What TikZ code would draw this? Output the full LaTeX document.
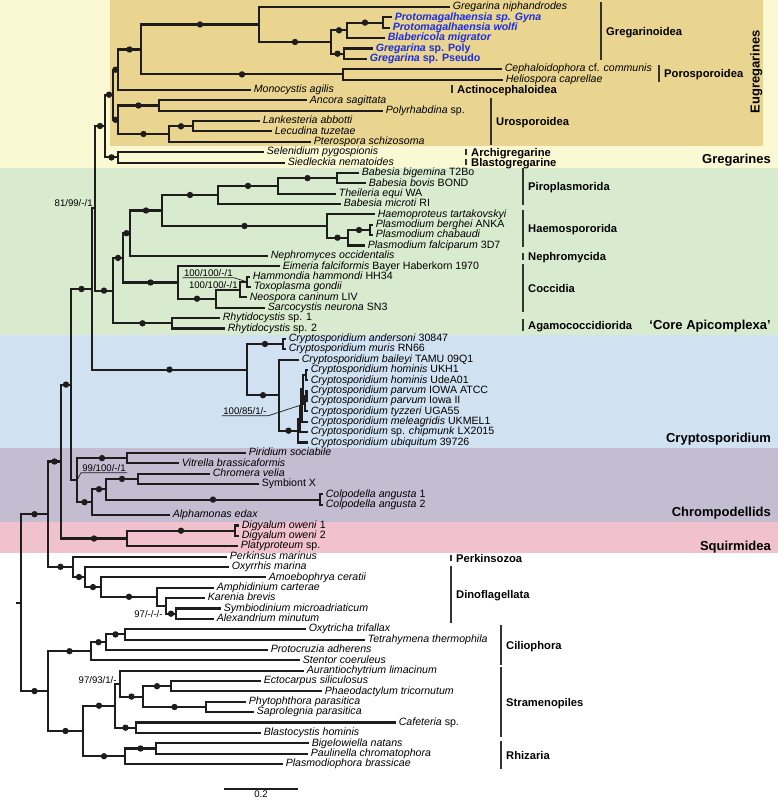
\documentclass[tikz,border=0pt]{standalone}
\usepackage{fontspec}
\setmainfont{Liberation Sans}
\usetikzlibrary{positioning}

\definecolor{treeline}{RGB}{30,28,28}
\definecolor{gblue}{RGB}{28,45,225}
\definecolor{bgyellow}{RGB}{251,248,212}
\definecolor{bgtan}{RGB}{233,213,143}
\definecolor{bggreen}{RGB}{216,235,207}
\definecolor{bgblue}{RGB}{208,225,241}
\definecolor{bgpurple}{RGB}{196,189,210}
\definecolor{bgpink}{RGB}{241,193,206}

\newcommand{\taxfont}{\fontsize{10.6}{12}\selectfont}
\newcommand{\supfont}{\fontsize{9.6}{11}\selectfont}
\newcommand{\cladefont}{\fontsize{11.2}{13}\selectfont}
\newcommand{\groupfont}{\fontsize{13}{15}\selectfont}

% branch from parent to child, plain or with a support dot
\newcommand{\twig}[2]{\draw[branch] (#1) |- (#2);}
\newcommand{\twigd}[2]{\draw[branch] (#1) |- node[sdot,pos=.75] (d-#2) {} (#2);}
% bar with clade name
\newcommand{\cladebar}[5]{\draw[cladebarline] (#2,#3) -- (#2,#4);
  \node[cladelab] (#1) at ({#2+5},{(#3+#4)/2}) {#5};}

\begin{document}
\begin{tikzpicture}[x=1pt,y=-1pt,
  branch/.style={line width=2.1pt,draw=treeline},
  sdot/.style={circle,fill=treeline,inner sep=0pt,minimum size=6.4pt},
  tax/.style={anchor=west,inner sep=2.6pt,text height=5.4pt,text depth=0pt,font=\taxfont\itshape},
  btax/.style={tax,text=gblue,font=\taxfont\bfseries\itshape},
  suplab/.style={inner sep=1.2pt,text height=6.8pt,text depth=0pt,font=\supfont},
  leader/.style={line width=0.7pt,draw=treeline},
  cladebarline/.style={line width=1.3pt,draw=black!80},
  cladelab/.style={anchor=west,inner sep=0pt,text height=8pt,text depth=0pt,font=\cladefont\bfseries},
  grouplab/.style={anchor=east,inner sep=0pt,text height=9.3pt,text depth=0pt,font=\groupfont\bfseries}]
\useasboundingbox (0,0) rectangle (778,801);

% coloured bands
\fill[bgyellow] (0,0) rectangle (778,168);
\fill[bgtan] (110,0) rectangle (763,146);
\fill[bggreen] (0,168) rectangle (778,335);
\fill[bgblue] (0,335) rectangle (778,448);
\fill[bgpurple] (0,448) rectangle (778,522);
\fill[bgpink] (0,522) rectangle (778,553);

% taxa
\node[tax] (gnip) at (450,7) {Gregarina niphandrodes};
\node[btax] (pgyn) at (392,17.4) {Protomagalhaensia sp. Gyna};
\node[btax] (pwol) at (390,27.7) {Protomagalhaensia wolfi};
\node[btax] (bmig) at (385,38.1) {Blabericola migrator};
\node[btax] (gpol) at (373,48.5) {Gregarina \textup{sp. Poly}};
\node[btax] (gpse) at (367,58.9) {Gregarina \textup{sp. Pseudo}};
\node[tax] (ceph) at (502,69.2) {Cephaloidophora \textup{cf.} communis};
\node[tax] (heli) at (503,79.6) {Heliospora caprellae};
\node[tax] (mono) at (251,90) {Monocystis agilis};
\node[tax] (anco) at (307,100.3) {Ancora sagittata};
\node[tax] (poly) at (383,110.7) {Polyrhabdina \textup{sp.}};
\node[tax] (lank) at (260,121.1) {Lankesteria abbotti};
\node[tax] (lecu) at (272,131.4) {Lecudina tuzetae};
\node[tax] (pter) at (311,141.8) {Pterospora schizosoma};
\node[tax] (sele) at (264,152.2) {Selenidium pygospionis};
\node[tax] (sied) at (285,162.6) {Siedleckia nematoides};
\node[tax] (bbig) at (359,172.9) {Babesia bigemina \textup{T2Bo}};
\node[tax] (bbov) at (366,183.3) {Babesia bovis \textup{BOND}};
\node[tax] (tequ) at (336,193.7) {Theileria equi \textup{WA}};
\node[tax] (bmic) at (341,204) {Babesia microti \textup{RI}};
\node[tax] (haem) at (375,214.4) {Haemoproteus tartakovskyi};
\node[tax] (pber) at (373,224.8) {Plasmodium berghei \textup{ANKA}};
\node[tax] (pcha) at (373,235.1) {Plasmodium chabaudi};
\node[tax] (pfal) at (365,245.5) {Plasmodium falciparum \textup{3D7}};
\node[tax] (neph) at (268,255.9) {Nephromyces occidentalis};
\node[tax] (eime) at (280,266.3) {Eimeria falciformis \textup{Bayer Haberkorn 1970}};
\node[tax] (hham) at (250,276.6) {Hammondia hammondi \textup{HH34}};
\node[tax] (tgon) at (251,287) {Toxoplasma gondii};
\node[tax] (ncan) at (247,297.4) {Neospora caninum \textup{LIV}};
\node[tax] (sneu) at (265,307.7) {Sarcocystis neurona \textup{SN3}};
\node[tax] (rhy1) at (220,318.1) {Rhytidocystis \textup{sp. 1}};
\node[tax] (rhy2) at (225,328.5) {Rhytidocystis \textup{sp. 2}};
\node[tax] (cand) at (286,338.8) {Cryptosporidium andersoni \textup{30847}};
\node[tax] (cmur) at (286,349.2) {Cryptosporidium muris \textup{RN66}};
\node[tax] (cbai) at (299,359.6) {Cryptosporidium baileyi \textup{TAMU 09Q1}};
\node[tax] (chom1) at (308,370) {Cryptosporidium hominis \textup{UKH1}};
\node[tax] (chom2) at (308,380.3) {Cryptosporidium hominis \textup{UdeA01}};
\node[tax] (cpar1) at (308,390.7) {Cryptosporidium parvum \textup{IOWA ATCC}};
\node[tax] (cpar2) at (308,401.1) {Cryptosporidium parvum \textup{Iowa II}};
\node[tax] (ctyz) at (308,411.4) {Cryptosporidium tyzzeri \textup{UGA55}};
\node[tax] (cmel) at (308,421.8) {Cryptosporidium meleagridis \textup{UKMEL1}};
\node[tax] (cchi) at (308,432.2) {Cryptosporidium \textup{sp.} chipmunk \textup{LX2015}};
\node[tax] (cubi) at (308,442.5) {Cryptosporidium ubiquitum \textup{39726}};
\node[tax] (piri) at (246,452.9) {Piridium sociabile};
\node[tax] (vitr) at (179,463.3) {Vitrella brassicaformis};
\node[tax] (chro) at (210,473.7) {Chromera velia};
\node[tax] (symx) at (259,484) {\textup{Symbiont X}};
\node[tax] (col1) at (323,494.4) {Colpodella angusta \textup{1}};
\node[tax] (col2) at (323,504.8) {Colpodella angusta \textup{2}};
\node[tax] (alph) at (170,515.1) {Alphamonas edax};
\node[tax] (dig1) at (239,525.5) {Digyalum oweni \textup{1}};
\node[tax] (dig2) at (239,535.9) {Digyalum oweni \textup{2}};
\node[tax] (plat) at (238,546.2) {Platyproteum \textup{sp.}};
\node[tax] (perk) at (227,556.6) {Perkinsus marinus};
\node[tax] (oxyr) at (229,567) {Oxyrrhis marina};
\node[tax] (amoe) at (266,577.4) {Amoebophrya ceratii};
\node[tax] (amph) at (214,587.7) {Amphidinium carterae};
\node[tax] (kare) at (205,598.1) {Karenia brevis};
\node[tax] (symb) at (221,608.5) {Symbiodinium microadriaticum};
\node[tax] (alex) at (214,618.8) {Alexandrium minutum};
\node[tax] (oxyt) at (306,629.2) {Oxytricha trifallax};
\node[tax] (tetr) at (365,639.6) {Tetrahymena thermophila};
\node[tax] (prot) at (268,649.9) {Protocruzia adherens};
\node[tax] (sten) at (300,660.3) {Stentor coeruleus};
\node[tax] (aura) at (304,670.7) {Aurantiochytrium limacinum};
\node[tax] (ecto) at (261,681) {Ectocarpus siliculosus};
\node[tax] (phae) at (322,691.4) {Phaeodactylum tricornutum};
\node[tax] (phyt) at (246,701.8) {Phytophthora parasitica};
\node[tax] (sapr) at (254,712.2) {Saprolegnia parasitica};
\node[tax] (cafe) at (396,722.5) {Cafeteria \textup{sp.}};
\node[tax] (blas) at (261,732.9) {Blastocystis hominis};
\node[tax] (bige) at (309,743.3) {Bigelowiella natans};
\node[tax] (paul) at (308,753.6) {Paulinella chromatophora};
\node[tax] (pbra) at (283,764) {Plasmodiophora brassicae};

% inner nodes
\coordinate (n-pm) at (383,22.6);  \coordinate (n-pb) at (347,30.3);
\coordinate (n-gs) at (344,53.7);  \coordinate (n-gp) at (331,42);
\coordinate (n-gr) at (259,24.5);  \coordinate (n-po) at (343,74.4);
\coordinate (n-eu1) at (141,49.5); \coordinate (n-eu2) at (118,69.7);
\coordinate (n-an) at (159,105.5); \coordinate (n-lk) at (193,126.3);
\coordinate (n-lp) at (169,134);   \coordinate (n-uro) at (118,119.8);
\coordinate (n-eug) at (113,94.7); \coordinate (n-ab) at (118,157.4);
\coordinate (n-greg) at (105,126);
\coordinate (n-bb) at (337,178.1); \coordinate (n-bt) at (278,185.9);
\coordinate (n-pi) at (218,195);   \coordinate (n-pl) at (370,230);
\coordinate (n-pf) at (348,237.7); \coordinate (n-hm) at (327,226);
\coordinate (n-ap) at (162,210.5); \coordinate (n-ac) at (130,233.2);
\coordinate (n-ht) at (247,281.8); \coordinate (n-tn) at (240,289.6);
\coordinate (n-sc) at (216,298.7); \coordinate (n-co) at (178,282.5);
\coordinate (n-ca) at (123,257.9); \coordinate (n-rh) at (172,323.3);
\coordinate (n-core) at (113,290.6); \coordinate (n-gc) at (95,208.3);
\coordinate (n-am) at (283,344);   \coordinate (n-c5) at (306,375.2);
\coordinate (n-c7) at (306.5,395.9); \coordinate (n-c6) at (305,403.7);
\coordinate (n-c4) at (303,389.4); \coordinate (n-c3) at (301.5,405.6);
\coordinate (n-c2) at (300,418.9); \coordinate (n-c1) at (298,430.7);
\coordinate (n-cb) at (279,395.2); \coordinate (n-cr) at (247,369.6);
\coordinate (n-gcc) at (92,289);
\coordinate (n-pv) at (127,458.1); \coordinate (n-cs) at (138,478.9);
\coordinate (n-cp) at (320,499.6); \coordinate (n-cc) at (106,489.2);
\coordinate (n-ca2) at (92,502.2); \coordinate (n-chr) at (77,480.1);
\coordinate (n-api) at (71,384.6);
\coordinate (n-dg) at (235,530.7); \coordinate (n-sq) at (127,538.5);
\coordinate (n-sq2) at (61,461.5);
\coordinate (n-sa) at (176,613.7); \coordinate (n-kb) at (166,605.9);
\coordinate (n-ak) at (157,596.8); \coordinate (n-am2) at (101,587.1);
\coordinate (n-dn) at (85,577);    \coordinate (n-pd) at (73,566.8);
\coordinate (n-alv) at (48,514.2);
\coordinate (n-ot) at (125,634.4); \coordinate (n-op) at (106,642.2);
\coordinate (n-cil) at (91,651.2);
\coordinate (n-ep) at (171,686.2); \coordinate (n-ps) at (206,707);
\coordinate (n-ph) at (143,696.6); \coordinate (n-au) at (120,683.6);
\coordinate (n-cb2) at (136,727.7); \coordinate (n-st) at (115,705.7);
\coordinate (n-bp) at (156,748.5); \coordinate (n-rz) at (125,756.2);
\coordinate (n-sr) at (83,731);    \coordinate (n-sar) at (48,691.1);
\coordinate (n-root) at (21,602.7); \coordinate (rootstub) at (16,602.7);

% gregarines
\twig{n-pm}{pgyn} \twig{n-pm}{pwol}
\twigd{n-pb}{n-pm} \twig{n-pb}{bmig}
\twig{n-gs}{gpol} \twig{n-gs}{gpse}
\twigd{n-gp}{n-pb} \twigd{n-gp}{n-gs}
\twig{n-gr}{gnip} \twigd{n-gr}{n-gp}
\twig{n-po}{ceph} \twig{n-po}{heli}
\twigd{n-eu1}{n-gr} \twigd{n-eu1}{n-po}
\twigd{n-eu2}{n-eu1} \twig{n-eu2}{mono}
\twig{n-an}{anco} \twig{n-an}{poly}
\twig{n-lk}{lank} \twig{n-lk}{lecu}
\twigd{n-lp}{n-lk} \twig{n-lp}{pter}
\twigd{n-uro}{n-an} \twigd{n-uro}{n-lp}
\twigd{n-eug}{n-eu2} \twigd{n-eug}{n-uro}
\twig{n-ab}{sele} \twig{n-ab}{sied}
\twigd{n-greg}{n-eug} \twigd{n-greg}{n-ab}
% core apicomplexa
\twig{n-bb}{bbig} \twig{n-bb}{bbov}
\twigd{n-bt}{n-bb} \twig{n-bt}{tequ}
\twigd{n-pi}{n-bt} \twig{n-pi}{bmic}
\twig{n-pl}{pber} \twig{n-pl}{pcha}
\twigd{n-pf}{n-pl} \twig{n-pf}{pfal}
\twig{n-hm}{haem} \twigd{n-hm}{n-pf}
\twigd{n-ap}{n-pi} \twigd{n-ap}{n-hm}
\twigd{n-ac}{n-ap} \twig{n-ac}{neph}
\twig{n-ht}{hham} \twig{n-ht}{tgon}
\twig{n-tn}{n-ht} \twig{n-tn}{ncan}
\twig{n-sc}{n-tn} \twig{n-sc}{sneu}
\twig{n-co}{eime} \twigd{n-co}{n-sc}
\twigd{n-ca}{n-ac} \twigd{n-ca}{n-co}
\twig{n-rh}{rhy1} \twig{n-rh}{rhy2}
\twigd{n-core}{n-ca} \twigd{n-core}{n-rh}
\twigd{n-gc}{n-greg} \twigd{n-gc}{n-core}
% cryptosporidium
\twig{n-am}{cand} \twig{n-am}{cmur}
\twig{n-c5}{chom1} \twig{n-c5}{chom2}
\twig{n-c7}{cpar1} \twig{n-c7}{cpar2}
\twig{n-c6}{n-c7} \twig{n-c6}{ctyz}
\twig{n-c4}{n-c5} \twig{n-c4}{n-c6}
\twig{n-c3}{n-c4} \twig{n-c3}{cmel}
\twig{n-c2}{n-c3} \twig{n-c2}{cchi}
\twig{n-c1}{n-c2} \twig{n-c1}{cubi}
\twig{n-cb}{cbai} \twigd{n-cb}{n-c1}
\twigd{n-cr}{n-am} \twigd{n-cr}{n-cb}
\twig{n-gcc}{n-gc} \twigd{n-gcc}{n-cr}
% chrompodellids, squirmidea
\twig{n-pv}{piri} \twig{n-pv}{vitr}
\twig{n-cs}{chro} \twig{n-cs}{symx}
\twig{n-cp}{col1} \twig{n-cp}{col2}
\twigd{n-cc}{n-cs} \twigd{n-cc}{n-cp}
\twigd{n-ca2}{n-cc} \twig{n-ca2}{alph}
\twigd{n-chr}{n-pv} \twigd{n-chr}{n-ca2}
\twigd{n-api}{n-gcc} \twig{n-api}{n-chr}
\twig{n-dg}{dig1} \twig{n-dg}{dig2}
\twigd{n-sq}{n-dg} \twig{n-sq}{plat}
\twigd{n-sq2}{n-api} \twigd{n-sq2}{n-sq}
% perkinsozoa, dinoflagellata
\twig{n-sa}{symb} \twig{n-sa}{alex}
\twig{n-kb}{kare} \twigd{n-kb}{n-sa}
\twig{n-ak}{amph} \twig{n-ak}{n-kb}
\twig{n-am2}{amoe} \twigd{n-am2}{n-ak}
\twig{n-dn}{oxyr} \twigd{n-dn}{n-am2}
\twig{n-pd}{perk} \twigd{n-pd}{n-dn}
\twigd{n-alv}{n-sq2} \twigd{n-alv}{n-pd}
% ciliates, stramenopiles, rhizaria
\twig{n-ot}{oxyt} \twig{n-ot}{tetr}
\twigd{n-op}{n-ot} \twig{n-op}{prot}
\twigd{n-cil}{n-op} \twig{n-cil}{sten}
\twig{n-ep}{ecto} \twig{n-ep}{phae}
\twig{n-ps}{phyt} \twig{n-ps}{sapr}
\twigd{n-ph}{n-ep} \twigd{n-ph}{n-ps}
\twig{n-au}{aura} \twigd{n-au}{n-ph}
\twig{n-cb2}{cafe} \twig{n-cb2}{blas}
\twig{n-st}{n-au} \twigd{n-st}{n-cb2}
\twig{n-bp}{bige} \twig{n-bp}{paul}
\twigd{n-rz}{n-bp} \twig{n-rz}{pbra}
\twigd{n-sr}{n-st} \twigd{n-sr}{n-rz}
\twigd{n-sar}{n-cil} \twigd{n-sar}{n-sr}
\twigd{n-root}{n-alv} \twigd{n-root}{n-sar}
\draw[branch] (rootstub) -- (n-root);

% support values
\node[suplab,anchor=east] (s-gc) at (94,203) {81/99/-/1};
\node[suplab,anchor=east] (s-ht) at (234,273) {100/100/-/1};
\draw[leader] (s-ht.south west) -- (s-ht.south east) -- (n-ht);
\node[suplab,anchor=east] (s-tn) at (239,285) {100/100/-/1};
\node[suplab,anchor=east] (s-c6) at (268,411) {100/85/1/-};
\draw[leader] (s-c6.south west) -- (s-c6.south east) -- (n-c6);
\node[suplab,anchor=west] (s-chr) at (81,468) {99/100/-/1};
\draw[leader] (s-chr.south east) -- (s-chr.south west) -- (n-chr);
\node[suplab,anchor=east] (s-sa) at (164,614) {97/-/-/-};
\node[suplab,anchor=east] (s-au) at (118,680) {97/93/1/-};

% clade bars
\cladebar{l-grgn}{601}{2}{60}{Gregarinoidea}
\cladebar{l-poro}{659}{65}{82}{Porosporoidea}
\cladebar{l-acti}{452}{85}{93}{Actinocephaloidea}
\cladebar{l-uros}{491}{98}{145}{Urosporoidea}
\cladebar{l-arch}{466}{149}{155}{Archigregarine}
\cladebar{l-blas}{466}{159}{165}{Blastogregarine}
\cladebar{l-piro}{523}{168}{205}{Piroplasmorida}
\cladebar{l-haem}{523}{210}{247}{Haemospororida}
\cladebar{l-neph}{523}{253}{260}{Nephromycida}
\cladebar{l-cocc}{523}{264}{312}{Coccidia}
\cladebar{l-agam}{523}{319}{331}{Agamococcidiorida}
\cladebar{l-perk}{451}{555}{561}{Perkinsozoa}
\cladebar{l-dino}{451}{566}{623}{Dinoflagellata}
\cladebar{l-cili}{501}{625}{665}{Ciliophora}
\cladebar{l-stra}{501}{667}{737}{Stramenopiles}
\cladebar{l-rhiz}{501}{741}{769}{Rhizaria}

% group names
\node[grouplab,rotate=90,anchor=center] (g-eug) at (755,72) {Eugregarines};
\node[grouplab] (g-greg) at (771,159) {Gregarines};
\node[grouplab] (g-core) at (771,325) {‘Core Apicomplexa’};
\node[grouplab] (g-crypto) at (771,438) {Cryptosporidium};
\node[grouplab] (g-chrom) at (771,512) {Chrompodellids};
\node[grouplab] (g-squirm) at (771,546) {Squirmidea};

% scale bar
\coordinate (sb-l) at (224,789);
\coordinate (sb-r) at (298,789);
\coordinate (sb-m) at (261,789);
\draw[branch] (sb-l) -- (sb-r);
\node[below=1.5pt of sb-m,inner sep=0pt,font=\supfont] (sb-lab) {0.2};
\end{tikzpicture}
\end{document}
